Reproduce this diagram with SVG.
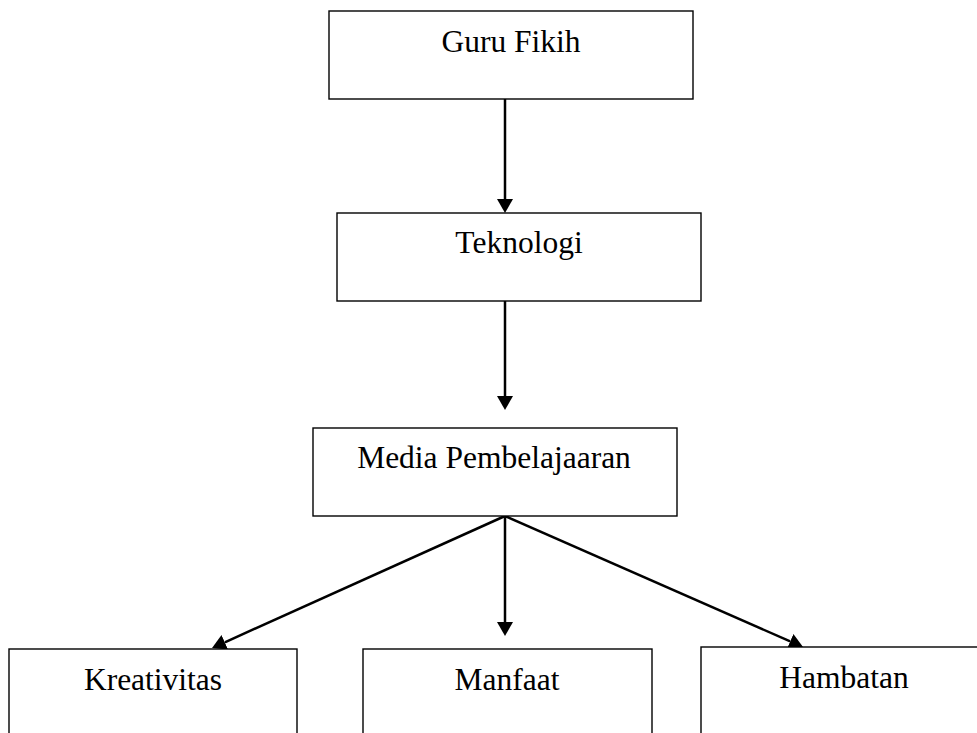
<svg xmlns="http://www.w3.org/2000/svg" width="977" height="733" viewBox="0 0 977 733">
<style>
.box{fill:#fff;stroke:#000;stroke-width:1.4}
.lbl{font-family:"Liberation Serif","Times New Roman",serif;font-size:31.5px;fill:#000;text-anchor:middle}
.con{stroke:#000;stroke-width:2.5;fill:none;marker-end:url(#ah)}
</style>
<defs>
<marker id="ah" viewBox="0 0 14 16" refX="0" refY="8" markerWidth="14" markerHeight="16" markerUnits="userSpaceOnUse" orient="auto">
<path d="M0,0 L14,8 L0,16 z" fill="#000"/>
</marker>
</defs>
<rect width="977" height="733" fill="#fff"/>
<g id="connectors">
<line class="con" x1="505" y1="99" x2="505" y2="199"/>
<line class="con" x1="505" y1="301" x2="505" y2="396"/>
<line class="con" x1="505" y1="516" x2="224.8" y2="642.3"/>
<line class="con" x1="505" y1="516" x2="505" y2="622"/>
<line class="con" x1="505" y1="516" x2="790.2" y2="641.4"/>
</g>
<g id="guru-fikih">
<rect class="box" x="329" y="11" width="364" height="88"/>
<text class="lbl" x="511" y="52">Guru Fikih</text>
</g>
<g id="teknologi">
<rect class="box" x="337" y="213" width="364" height="88"/>
<text class="lbl" x="519" y="253">Teknologi</text>
</g>
<g id="media-pembelajaaran">
<rect class="box" x="313" y="428" width="364" height="88"/>
<text class="lbl" x="494" y="468">Media Pembelajaaran</text>
</g>
<g id="kreativitas">
<rect class="box" x="9" y="649" width="288" height="100"/>
<text class="lbl" x="153" y="690">Kreativitas</text>
</g>
<g id="manfaat">
<rect class="box" x="363" y="649" width="289" height="100"/>
<text class="lbl" x="507" y="690">Manfaat</text>
</g>
<g id="hambatan">
<rect class="box" x="701" y="647" width="287" height="100"/>
<text class="lbl" x="844" y="688">Hambatan</text>
</g>
</svg>
